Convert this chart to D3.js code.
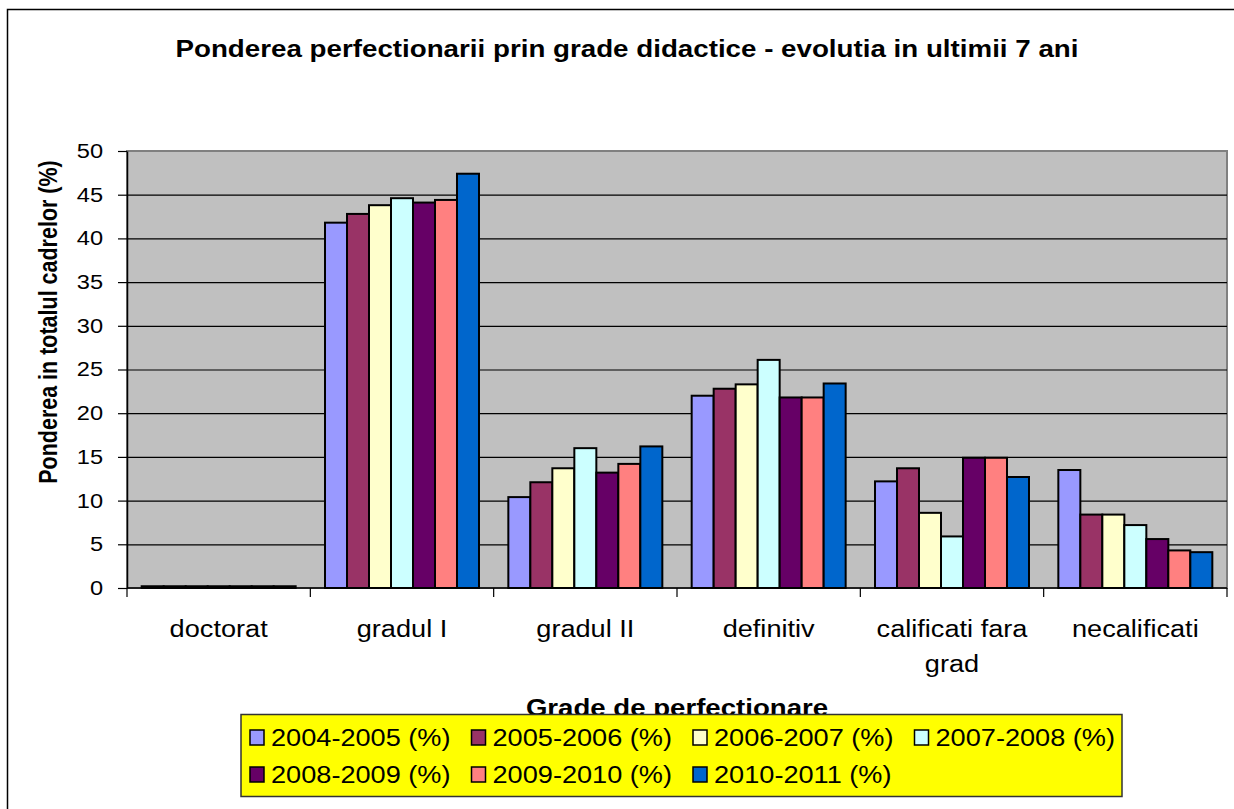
<!DOCTYPE html>
<html>
<head>
<meta charset="utf-8">
<script src="https://cdn.jsdelivr.net/npm/d3@7/dist/d3.min.js"></script>
<style>
  html, body { margin: 0; padding: 0; background: #fff; }
  svg { display: block; font-family: "Liberation Sans", Arial, sans-serif; }
</style>
</head>
<body>
<svg id="chart" width="1234" height="809"></svg>
<script>
// ---- data ----
const categories = ["doctorat", "gradul I", "gradul II", "definitiv", "calificati fara grad", "necalificati"];
const seriesNames = ["2004-2005 (%)", "2005-2006 (%)", "2006-2007 (%)", "2007-2008 (%)", "2008-2009 (%)", "2009-2010 (%)", "2010-2011 (%)"];
const s2004 = [0.2, 41.8, 10.4, 22.0, 12.2, 13.5];
const s2005 = [0.2, 42.8, 12.1, 22.8, 13.7, 8.4];
const s2006 = [0.2, 43.8, 13.7, 23.3, 8.6, 8.4];
const s2007 = [0.2, 44.6, 16.0, 26.1, 5.9, 7.2];
const s2008 = [0.2, 44.1, 13.2, 21.8, 14.9, 5.6];
const s2009 = [0.2, 44.4, 14.2, 21.8, 14.9, 4.3];
const s2010 = [0.2, 47.4, 16.2, 23.4, 12.7, 4.1];
const seriesValues = [s2004, s2005, s2006, s2007, s2008, s2009, s2010];
const seriesColors = ["#9999FF", "#993366", "#FFFFCC", "#CCFFFF", "#660066", "#FF8080", "#0066CC"];
const yTicks = [0, 5, 10, 15, 20, 25, 30, 35, 40, 45, 50];
const titleText = "Ponderea perfectionarii prin grade didactice - evolutia in ultimii 7 ani";
const yTitle = "Ponderea in totalul cadrelor (%)";
const xTitle = "Grade de perfectionare";

// ---- layout ----
const SX = 1.18; // horizontal text stretch seen in the reference
const plot = { left: 127, top: 151, right: 1227, bottom: 588 };
const svg = d3.select("#chart");

function stretch(sel, sx) {
  sel.each(function () {
    const len = this.getComputedTextLength();
    if (len > 0) {
      this.setAttribute("textLength", len * sx);
      this.setAttribute("lengthAdjust", "spacingAndGlyphs");
    }
  });
}

// outer chart border
svg.append("rect")
  .attr("x", 7.5).attr("y", 9.5).attr("width", 1260).attr("height", 830)
  .attr("fill", "#fff").attr("stroke", "#000").attr("stroke-width", 1.5);

// scales
const x0 = d3.scaleBand().domain(categories).range([plot.left, plot.right]).paddingInner(0).paddingOuter(0);
const x1 = d3.scaleBand().domain(seriesNames).range([0, x0.bandwidth()]).paddingInner(0).paddingOuter(0.667);
const y = d3.scaleLinear().domain([0, 50]).range([plot.bottom, plot.top]);

// plot background
svg.append("rect")
  .attr("x", plot.left).attr("y", plot.top)
  .attr("width", plot.right - plot.left).attr("height", plot.bottom - plot.top)
  .attr("fill", "#C0C0C0").attr("stroke", "#808080").attr("stroke-width", 2);

// gridlines
const grid = svg.append("g").attr("transform", `translate(${plot.left},0)`)
  .call(d3.axisLeft(y).tickValues(yTicks.filter(v => v > 0 && v < 50)).tickSize(-(plot.right - plot.left)).tickFormat(""));
grid.select(".domain").remove();
grid.selectAll("line").attr("stroke", "#000").attr("stroke-width", 1.2);

// bars
const groups = svg.append("g").selectAll("g")
  .data(categories)
  .join("g")
  .attr("transform", d => `translate(${x0(d)},0)`);

groups.selectAll("rect")
  .data((c, ci) => seriesNames.map((s, si) => ({ s, si, v: seriesValues[si][ci] })))
  .join("rect")
  .attr("x", d => x1(d.s))
  .attr("width", x1.bandwidth())
  .attr("y", d => y(d.v))
  .attr("height", d => y(0) - y(d.v))
  .attr("fill", d => seriesColors[d.si])
  .attr("stroke", "#000")
  .attr("stroke-width", 2);

// y axis
const yAxis = svg.append("g").attr("transform", `translate(${plot.left},0)`)
  .call(d3.axisLeft(y).tickValues(yTicks).tickSize(9).tickPadding(15).tickSizeOuter(0));
yAxis.select(".domain").attr("stroke", "#000").attr("stroke-width", 1.5);
yAxis.selectAll(".tick line").attr("stroke", "#000").attr("stroke-width", 1.2);
yAxis.selectAll(".tick text")
  .attr("font-size", 20).attr("fill", "#000")
  .attr("font-family", "'Liberation Sans', Arial, sans-serif")
  .call(stretch, SX);

// x axis line + boundary ticks
const xAxis = svg.append("g").attr("transform", `translate(0,${plot.bottom})`);
xAxis.append("line")
  .attr("x1", plot.left).attr("x2", plot.right).attr("y1", 0).attr("y2", 0)
  .attr("stroke", "#000").attr("stroke-width", 1.5);
const bounds = categories.map(c => x0(c)).concat([x0(categories[categories.length - 1]) + x0.bandwidth()]);
xAxis.selectAll("line.btick").data(bounds).join("line")
  .attr("class", "btick")
  .attr("x1", d => d).attr("x2", d => d).attr("y1", 0).attr("y2", 9)
  .attr("stroke", "#000").attr("stroke-width", 1.2);

// x labels (wrapped to category width)
const labelG = svg.append("g");
categories.forEach(c => {
  const cx = x0(c) + x0.bandwidth() / 2;
  const words = c.split(" ");
  const lines = [];
  let cur = "";
  const probe = labelG.append("text").attr("font-size", 23);
  words.forEach(w => {
    const test = cur ? cur + " " + w : w;
    probe.text(test);
    if (probe.node().getComputedTextLength() * SX > x0.bandwidth() * 0.92 && cur) {
      lines.push(cur); cur = w;
    } else cur = test;
  });
  lines.push(cur);
  probe.remove();
  lines.forEach((ln, i) => {
    labelG.append("text")
      .attr("x", cx).attr("y", 637 + i * 35)
      .attr("text-anchor", "middle")
      .attr("font-size", 23).attr("fill", "#000")
      .text(ln)
      .call(stretch, SX);
  });
});

// title
svg.append("text")
  .attr("x", 627).attr("y", 57)
  .attr("text-anchor", "middle")
  .attr("font-size", 23.5).attr("font-weight", "bold")
  .text(titleText)
  .call(stretch, SX);

// y title
svg.append("text")
  .attr("transform", `translate(57,322) scale(${SX},1) rotate(-90)`)
  .attr("text-anchor", "middle")
  .attr("font-size", 21.5).attr("font-weight", "bold")
  .text(yTitle);

// x title
svg.append("text")
  .attr("x", (plot.left + plot.right) / 2).attr("y", 716)
  .attr("text-anchor", "middle")
  .attr("font-size", 23.4).attr("font-weight", "bold")
  .text(xTitle)
  .call(stretch, SX);

// legend
const legend = svg.append("g");
legend.append("rect")
  .attr("x", 241).attr("y", 714.5).attr("width", 881).attr("height", 82)
  .attr("fill", "#FFFF00").attr("stroke", "#333").attr("stroke-width", 1.5);
const perRow = 4;
const items = legend.selectAll("g.item").data(seriesNames).join("g")
  .attr("class", "item")
  .attr("transform", (d, i) => `translate(${250 + (i % perRow) * 221.5},${Math.floor(i / perRow) * 37})`);
items.append("rect")
  .attr("x", 0).attr("y", 730).attr("width", 14).attr("height", 15)
  .attr("fill", (d, i) => seriesColors[i]).attr("stroke", "#000").attr("stroke-width", 1.5);
items.append("text")
  .attr("x", 21).attr("y", 746)
  .attr("font-size", 23).attr("fill", "#000")
  .text(d => d)
  .call(stretch, SX);
</script>
</body>
</html>
